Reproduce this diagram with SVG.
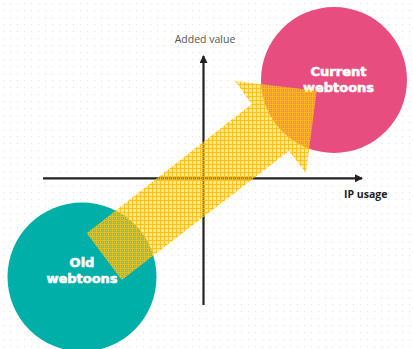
<svg xmlns="http://www.w3.org/2000/svg" width="413" height="349" viewBox="0 0 413 349">
<defs>
<pattern id="dots" width="7" height="7" patternUnits="userSpaceOnUse">
<rect x="3" y="3" width="1.2" height="1.2" fill="#e6e6e6"/>
</pattern>
<pattern id="grid" width="4" height="4" patternUnits="userSpaceOnUse">
<rect width="4" height="4" fill="#ffcc33" fill-opacity="0.5"/>
<rect x="2" y="2" width="1" height="1" fill="#fff3c4" fill-opacity="0.5"/>
<path d="M0 0.5H4M0.5 0V4" stroke="#ffbf00" stroke-opacity="0.85" stroke-width="1" fill="none"/>
</pattern>
<marker id="ah" viewBox="0 0 8 8" refX="7" refY="4" markerWidth="8" markerHeight="8" markerUnits="userSpaceOnUse" orient="auto">
<path d="M0 0L8 4L0 8Z" fill="#222"/>
</marker>
</defs>
<style>
.axis{stroke:#222;stroke-width:2.2;fill:none}
.big{font-family:"DejaVu Sans",sans-serif;font-weight:bold;font-size:13px;fill:#fff;stroke:#fff;stroke-width:0.6;text-anchor:middle}
.lab{font-family:"Open Sans",sans-serif;font-size:10.5px}
</style>
<rect width="413" height="349" fill="#fff"/>
<rect width="413" height="349" fill="url(#dots)"/>
<g id="old-webtoons">
<circle cx="82" cy="277" r="74.5" fill="#00afa8"/>
<text class="big" x="82" y="266.5">Old</text>
<text class="big" x="82" y="282.5">webtoons</text>
</g>
<g id="current-webtoons">
<circle cx="334" cy="80" r="73" fill="#e84d7f"/>
<text class="big" x="338.5" y="76">Current</text>
<text class="big" x="338.5" y="91.5">webtoons</text>
</g>
<g id="connectors">
<line class="axis" x1="203.5" y1="305" x2="203.5" y2="56" marker-end="url(#ah)"/>
<line class="axis" x1="43" y1="178.3" x2="362" y2="178.3" marker-end="url(#ah)"/>
</g>
<g id="axis-labels">
<text class="lab" x="205" y="42.7" text-anchor="middle" fill="#555">Added value</text>
<text class="lab" x="344" y="197.5" font-weight="bold" font-size="10.3" fill="#222">IP usage</text>
</g>
<g id="growth-arrow">
<polygon points="86.7,233.3 251.7,104 235,81 316.7,90.7 306,173 289,151 121.7,280" fill="url(#grid)"/>
</g>
</svg>
